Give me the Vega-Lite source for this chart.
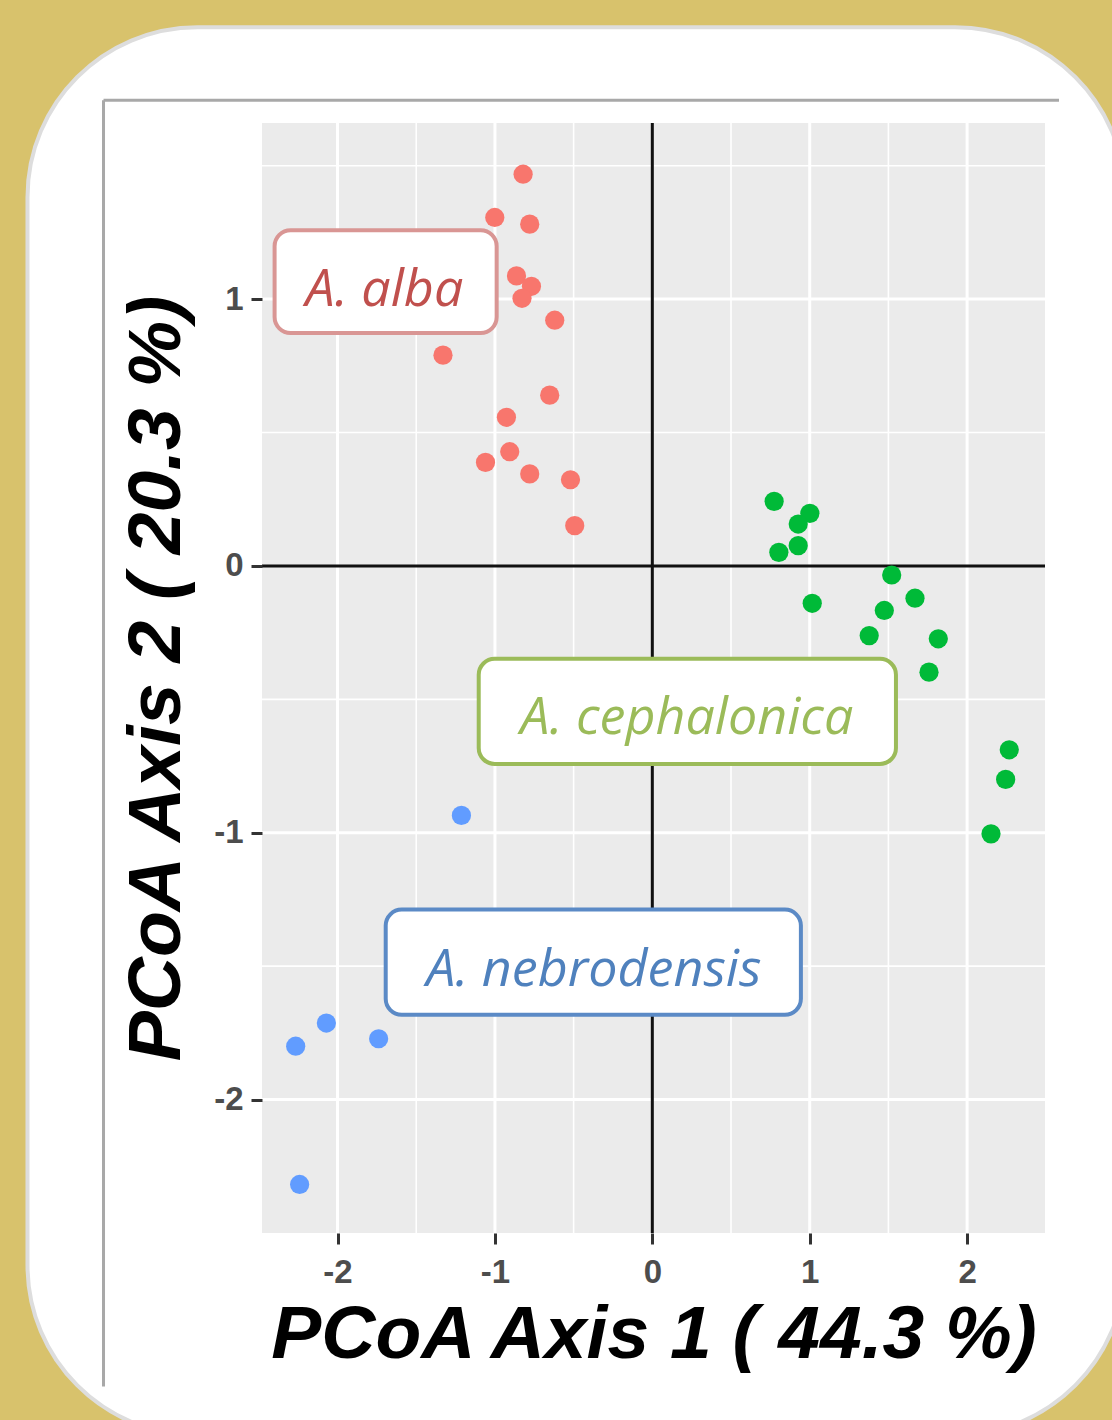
{
  "$schema": "https://vega.github.io/schema/vega-lite/v6.json",
  "width": 783,
  "height": 1110,
  "autosize": {"type": "none"},
  "padding": {"left": 262, "top": 123, "right": 67, "bottom": 187},
  "background": "#D8C26C",
  "config": {"view": {"stroke": null, "fill": null}},
  "datasets": {
    "panel": [{"x": -3.97, "x2": 3.004, "y": 2.019, "y2": -3.258}],
    "frame": [
      {"x": -3.487, "x2": 2.584, "y": 1.745, "y2": 1.745},
      {"x": -3.487, "x2": -3.487, "y": 1.745, "y2": -3.075}
    ],
    "plotbg": [{"x": -2.48, "x2": 2.495, "y": -2.5, "y2": 1.66}],
    "xminor": [{"x": -1.5}, {"x": -0.5}, {"x": 0.5}, {"x": 1.5}],
    "yminor": [{"y": 1.5}, {"y": 0.5}, {"y": -0.5}, {"y": -1.5}],
    "xmajor": [{"x": -2}, {"x": -1}, {"x": 1}, {"x": 2}],
    "ymajor": [{"y": 1}, {"y": -1}, {"y": -2}],
    "points": [
      {"species": "A. alba", "x": -0.821, "y": 1.468},
      {"species": "A. alba", "x": -1.001, "y": 1.306},
      {"species": "A. alba", "x": -0.779, "y": 1.281},
      {"species": "A. alba", "x": -0.863, "y": 1.087},
      {"species": "A. alba", "x": -0.768, "y": 1.048},
      {"species": "A. alba", "x": -0.828, "y": 1.003},
      {"species": "A. alba", "x": -0.62, "y": 0.921},
      {"species": "A. alba", "x": -1.33, "y": 0.79},
      {"species": "A. alba", "x": -0.652, "y": 0.64},
      {"species": "A. alba", "x": -0.927, "y": 0.557},
      {"species": "A. alba", "x": -0.906, "y": 0.428},
      {"species": "A. alba", "x": -1.06, "y": 0.388},
      {"species": "A. alba", "x": -0.779, "y": 0.345},
      {"species": "A. alba", "x": -0.52, "y": 0.323},
      {"species": "A. alba", "x": -0.493, "y": 0.151},
      {"species": "A. cephalonica", "x": 0.774, "y": 0.242},
      {"species": "A. cephalonica", "x": 1.001, "y": 0.197},
      {"species": "A. cephalonica", "x": 0.927, "y": 0.157},
      {"species": "A. cephalonica", "x": 0.927, "y": 0.076},
      {"species": "A. cephalonica", "x": 0.804, "y": 0.051},
      {"species": "A. cephalonica", "x": 1.521, "y": -0.034},
      {"species": "A. cephalonica", "x": 1.016, "y": -0.14},
      {"species": "A. cephalonica", "x": 1.669, "y": -0.121},
      {"species": "A. cephalonica", "x": 1.474, "y": -0.167},
      {"species": "A. cephalonica", "x": 1.378, "y": -0.261},
      {"species": "A. cephalonica", "x": 1.817, "y": -0.273},
      {"species": "A. cephalonica", "x": 1.758, "y": -0.398},
      {"species": "A. cephalonica", "x": 2.268, "y": -0.689},
      {"species": "A. cephalonica", "x": 2.245, "y": -0.8},
      {"species": "A. cephalonica", "x": 2.152, "y": -1.004},
      {"species": "A. nebrodensis", "x": -1.213, "y": -0.935},
      {"species": "A. nebrodensis", "x": -2.071, "y": -1.713},
      {"species": "A. nebrodensis", "x": -2.266, "y": -1.8},
      {"species": "A. nebrodensis", "x": -1.739, "y": -1.772},
      {"species": "A. nebrodensis", "x": -2.241, "y": -2.318}
    ],
    "labels": [
      {"species": "A. alba", "x": -2.4, "x2": -0.989, "y": 1.258, "y2": 0.873, "tx": -1.702, "ty": 0.975},
      {"species": "A. cephalonica", "x": -1.103, "x2": 1.548, "y": -0.348, "y2": -0.742, "tx": 0.219, "ty": -0.629},
      {"species": "A. nebrodensis", "x": -1.694, "x2": 0.944, "y": -1.288, "y2": -1.682, "tx": -0.372, "ty": -1.573}
    ]
  },
  "layer": [
    {
      "data": {"name": "panel"},
      "mark": {"type": "rect", "fill": "white", "stroke": "#DDDDDD", "strokeWidth": 4, "cornerRadius": 170, "clip": false},
      "encoding": {
        "x": {"field": "x", "type": "quantitative"},
        "x2": {"field": "x2"},
        "y": {"field": "y", "type": "quantitative"},
        "y2": {"field": "y2"}
      }
    },
    {
      "data": {"name": "frame"},
      "mark": {"type": "rule", "color": "#A8A8A8", "strokeWidth": 3, "clip": false},
      "encoding": {
        "x": {"field": "x", "type": "quantitative"},
        "x2": {"field": "x2"},
        "y": {"field": "y", "type": "quantitative"},
        "y2": {"field": "y2"}
      }
    },
    {
      "data": {"name": "plotbg"},
      "mark": {"type": "rect", "fill": "#EBEBEB", "clip": false},
      "encoding": {
        "x": {"field": "x", "type": "quantitative"},
        "x2": {"field": "x2"},
        "y": {"field": "y", "type": "quantitative"},
        "y2": {"field": "y2"}
      }
    },
    {
      "data": {"name": "xminor"},
      "mark": {"type": "rule", "color": "#FFFFFF", "strokeWidth": 1.6},
      "encoding": {"x": {"field": "x", "type": "quantitative"}}
    },
    {
      "data": {"name": "yminor"},
      "mark": {"type": "rule", "color": "#FFFFFF", "strokeWidth": 1.6},
      "encoding": {"y": {"field": "y", "type": "quantitative"}}
    },
    {
      "data": {"name": "xmajor"},
      "mark": {"type": "rule", "color": "#FFFFFF", "strokeWidth": 3},
      "encoding": {"x": {"field": "x", "type": "quantitative"}}
    },
    {
      "data": {"name": "ymajor"},
      "mark": {"type": "rule", "color": "#FFFFFF", "strokeWidth": 3},
      "encoding": {"y": {"field": "y", "type": "quantitative"}}
    },
    {
      "data": {"name": "plotbg"},
      "mark": {"type": "rule", "color": "#111111", "strokeWidth": 3},
      "encoding": {"x": {"datum": 0, "type": "quantitative"}}
    },
    {
      "data": {"name": "plotbg"},
      "mark": {"type": "rule", "color": "#111111", "strokeWidth": 3},
      "encoding": {"y": {"datum": 0, "type": "quantitative"}}
    },
    {
      "data": {"name": "points"},
      "mark": {"type": "circle", "size": 370, "opacity": 1},
      "encoding": {
        "x": {
          "field": "x", "type": "quantitative",
          "scale": {"domain": [-2.48, 2.495], "nice": false, "zero": false},
          "axis": {
            "title": "PCoA Axis 1 ( 44.3 %)",
            "values": [-2, -1, 0, 1, 2],
            "labelExpr": "'' + datum.value",
            "grid": false, "domain": false, "zindex": 1,
            "tickSize": 11, "tickWidth": 3, "tickColor": "#333333",
            "labelPadding": 12, "labelFont": "Liberation Sans", "labelFontSize": 33, "labelFontWeight": "bold", "labelColor": "#4D4D4D",
            "titleFont": "Liberation Sans", "titleFontSize": 75, "titleFontWeight": "bold", "titleFontStyle": "italic",
            "titleColor": "#000000", "titlePadding": 9
          }
        },
        "y": {
          "field": "y", "type": "quantitative",
          "scale": {"domain": [-2.5, 1.66], "nice": false, "zero": false},
          "axis": {
            "title": "PCoA Axis 2 ( 20.3 %)",
            "values": [-2, -1, 0, 1],
            "labelExpr": "'' + datum.value",
            "grid": false, "domain": false, "zindex": 1,
            "tickSize": 11, "tickWidth": 3, "tickColor": "#333333",
            "labelPadding": 8, "labelFont": "Liberation Sans", "labelFontSize": 33, "labelFontWeight": "bold", "labelColor": "#4D4D4D",
            "titleFont": "Liberation Sans", "titleFontSize": 75, "titleFontWeight": "bold", "titleFontStyle": "italic",
            "titleColor": "#000000", "titlePadding": 18
          }
        },
        "color": {
          "field": "species", "type": "nominal",
          "scale": {"domain": ["A. alba", "A. cephalonica", "A. nebrodensis"], "range": ["#F8766D", "#00BA38", "#619CFF"]},
          "legend": null
        }
      }
    },
    {
      "data": {"name": "labels"},
      "mark": {"type": "rect", "fill": "white", "strokeWidth": 4, "cornerRadius": 16},
      "encoding": {
        "x": {"field": "x", "type": "quantitative"},
        "x2": {"field": "x2"},
        "y": {"field": "y", "type": "quantitative"},
        "y2": {"field": "y2"},
        "stroke": {
          "field": "species", "type": "nominal",
          "scale": {"domain": ["A. alba", "A. cephalonica", "A. nebrodensis"], "range": ["#D99694", "#9BBB59", "#5B8AC6"]},
          "legend": null
        }
      }
    },
    {
      "data": {"name": "labels"},
      "mark": {"type": "text", "font": "Open Sans", "fontStyle": "italic", "fontSize": 52, "align": "center", "baseline": "alphabetic"},
      "encoding": {
        "x": {"field": "tx", "type": "quantitative"},
        "y": {"field": "ty", "type": "quantitative"},
        "text": {"field": "species"},
        "fill": {
          "field": "species", "type": "nominal",
          "scale": {"domain": ["A. alba", "A. cephalonica", "A. nebrodensis"], "range": ["#C0504D", "#9BBB59", "#4F81BD"]},
          "legend": null
        }
      }
    }
  ]
}
